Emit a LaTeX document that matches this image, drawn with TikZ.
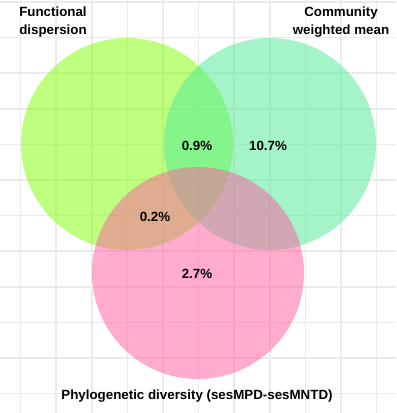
\documentclass[tikz,border=0pt]{standalone}
\usepackage{fontspec}
\setmainfont{Liberation Sans}
\begin{document}
\begin{tikzpicture}[x=0.75pt, y=-0.75pt,
    every node/.style={inner sep=0pt, font=\bfseries\fontsize{10}{13.5}\selectfont},
    setdisc/.style={fill opacity=0.5}]
    % Define colors
    \definecolor{gridcolor}{RGB}{235,235,235}
    \definecolor{fdispcolor}{RGB}{129,255,0}
    \definecolor{cwmcolor}{RGB}{77,235,149}
    \definecolor{phylocolor}{RGB}{255,91,161}

    \useasboundingbox (0,0) rectangle (396,413);
    \fill[white] (0,0) rectangle (396,413);

    % Grid
    \foreach \x in {0,...,10} {
        \draw[gridcolor, line width=1.2pt] (20.5+35.6*\x,0) -- (20.5+35.6*\x,413);
    }
    \foreach \y in {0,...,11} {
        \draw[gridcolor, line width=1.2pt] (0,2+35.6*\y) -- (396,2+35.6*\y);
    }

    % Sets
    \fill[setdisc, fdispcolor] (127,144) circle[radius=79.5pt];
    \fill[setdisc, cwmcolor] (270,144) circle[radius=79.5pt];
    \fill[setdisc, phylocolor] (198,273) circle[radius=79.5pt];

    % Set names
    \node[align=left, anchor=west] (fdisp) at (19,22) {Functional\\dispersion};
    \node[align=center] (cwm) at (341,22) {Community\\weighted mean};
    \node (phylo) at (197,396) {Phylogenetic diversity (sesMPD-sesMNTD)};

    % Shares
    \node (fdispcwm) at (197,146) {0.9\%};
    \node (cwmonly) at (268,146) {10.7\%};
    \node (fdispphylo) at (155,217) {0.2\%};
    \node (phyloonly) at (197,274) {2.7\%};
\end{tikzpicture}
\end{document}
